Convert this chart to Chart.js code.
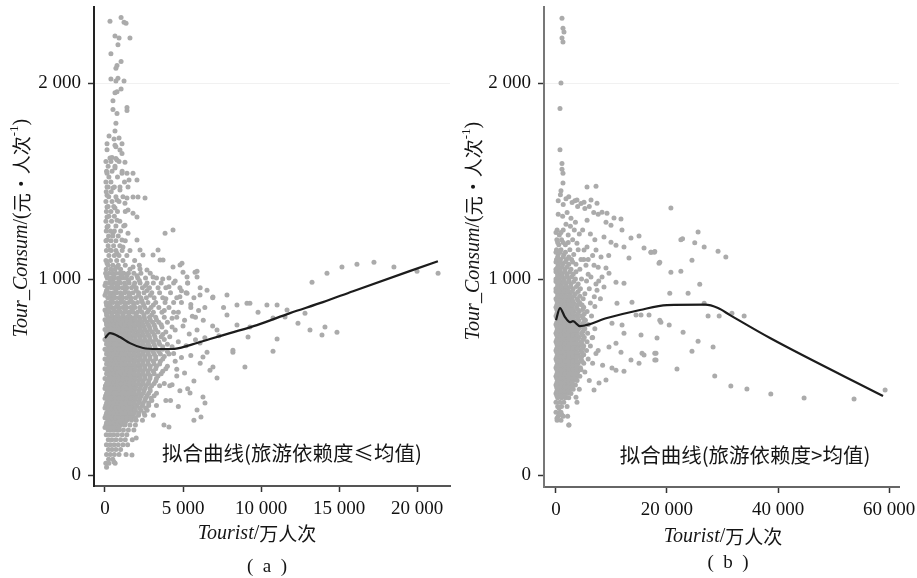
<!DOCTYPE html>
<html><head><meta charset="utf-8">
<script src="https://cdn.jsdelivr.net/npm/chart.js@4/dist/chart.umd.min.js"></script>
<style>
html,body{margin:0;padding:0;background:#fff;}
#wrap{position:relative;width:917px;height:578px;overflow:hidden;background:#fff;}
#pa{position:absolute;left:0;top:0;}
#pb{position:absolute;left:458px;top:0;}
</style></head>
<body><div id="wrap"><canvas id="pa" width="458" height="578"></canvas><canvas id="pb" width="459" height="578"></canvas></div>
<script>
// ---------- tick labels ----------
const ticksYA = [0, 1000, 2000];
const ticksXA = [0, 5000, 10000, 15000, 20000];
const ticksYB = [0, 1000, 2000];
const ticksXB = [0, 20000, 40000, 60000];

// ---------- fitted curves ----------
const curveAX = [0, 320, 960, 1600, 2440, 3330, 4300, 5450, 6730, 8010, 9740, 11860, 13970, 15900, 21340];
const curveAY = [699, 724, 704, 673, 648, 643, 643, 663, 694, 724, 765, 826, 882, 938, 1091];
const curveBX = [0, 720, 1620, 2520, 3060, 4320, 9190, 15140, 20000, 26850, 29190, 31350, 38560, 58920];
const curveBY = [790, 852, 806, 780, 785, 760, 801, 842, 867, 869, 852, 816, 699, 403];

// ---------- panel (a) scatter: [Tourist, Tour_Consum] ----------
const topA = [[320,2315],[1030,2335],[1220,2310],[1350,2305],[640,2240],[900,2230],[1600,2230],[830,2195],[380,2150],[1030,2110],[770,2090],[700,2075],[380,2020],[700,2010],[1220,2010],[830,2025],[1030,1970],[640,1950],[770,1955],[510,1910],[1410,1875],[1410,1860],[510,1865],[770,1845],[700,1795],[640,1755],[260,1730],[580,1715],[900,1720],[130,1690],[1090,1690],[700,1675],[130,1660],[1090,1640],[450,1620],[700,1615],[640,1683],[960,1658],[320,1617],[770,1607],[1280,1596]];
const midA = [[130,1540],[640,1566],[1090,1540],[1410,1540],[1795,1540],[1540,1505],[2050,1505],[130,1469],[510,1464],[960,1454],[1475,1469],[130,1428],[770,1403],[1410,1413],[1795,1418],[2115,1418],[2565,1413],[130,1367],[640,1362],[1280,1387],[1475,1352],[1795,1336],[2050,1316],[130,1316],[770,1300],[1280,1275],[130,1265],[510,1234],[1090,1199],[1475,1234],[2050,1199],[3850,1234],[4360,1250],[130,1199],[320,1148],[770,1132],[1150,1163],[2245,1148],[2435,1122],[3080,1122],[3400,1148],[3720,1097],[4360,1061],[4935,1081],[5000,1035],[5770,1035],[5900,1010],[1795,1061],[2245,1051],[2690,1046],[3080,1010],[130,1081],[770,1061],[1150,1030],[130,1010],[510,995],[4810,1071],[5900,1040],[5260,1010],[3530,1097],[6540,943]];
const colRowsA = [[1600,[60,380,900]],[1575,[200,640]],[1550,[100,450,1100]],[1520,[250,800]],[1495,[60,380,1250]],[1470,[200,600,960]],[1445,[80,400]],[1420,[240,700,1150]],[1395,[60,450,900]],[1370,[200,560]],[1345,[90,380,800,1300]],[1320,[250,600]],[1295,[60,420,950]],[1270,[200,700,1200]],[1245,[80,350,600,1000]],[1220,[230,500,850]],[1195,[60,380,700,1300]],[1170,[200,550,950]],[1145,[90,400,700,1100,1600]],[1120,[250,600,900,1400]],[1095,[60,350,750,1150,1900]],[1070,[200,500,850,1300,2200]],[1050,[80,380,650,1000,1600]]];
const coreRowsA = [
[1030,[40,260,480,700,950,1200,1500,1850,2300,2900]],
[1005,[150,380,600,850,1100,1350,1700,2100,2600,3300,4100]],
[980,[50,280,500,730,980,1250,1550,1900,2250,2700,3100,3600,4400,5300]],
[955,[170,400,620,870,1120,1400,1700,2000,2400,2850,3400,3900,4800,6100]],
[930,[60,290,520,760,1000,1260,1520,1800,2150,2500,3000,3500,4200,5200]],
[905,[180,410,640,890,1130,1380,1650,1950,2300,2650,3150,3700,4600,5700,6900]],
[880,[70,300,530,770,1010,1260,1520,1790,2080,2400,2750,3250,3850,4900]],
[855,[190,420,650,900,1140,1390,1650,1920,2230,2550,2950,3450,4100,5500,6400,7600]],
[830,[80,310,540,780,1020,1270,1530,1800,2080,2380,2720,3100,3650,4400]],
[805,[200,430,660,900,1150,1400,1660,1930,2210,2520,2850,3250,3800,4600,5800]],
[780,[90,320,550,790,1030,1280,1540,1810,2090,2380,2700,3050,3450,4000]],
[755,[210,440,670,910,1160,1410,1670,1940,2220,2520,2850,3200,3650,4300]],
[730,[100,330,560,800,1040,1290,1550,1820,2100,2390,2700,3030,3400,3900]],
[705,[220,450,680,920,1170,1420,1680,1950,2230,2530,2850,3200,3600,4150]],
[680,[110,340,570,810,1050,1300,1560,1830,2110,2400,2710,3050,3450]],
[655,[230,460,690,930,1180,1430,1690,1960,2240,2540,2860,3200,3700,4300]],
[630,[120,350,580,820,1060,1310,1570,1840,2120,2410,2720,3060,3450,4000]],
[605,[240,470,700,940,1190,1440,1700,1970,2250,2550,2880,3250,3800]],
[580,[130,360,590,830,1070,1320,1580,1850,2130,2420,2740,3100,3550,4500]],
[555,[250,480,710,950,1200,1450,1710,1980,2260,2560,2900,3300,4000]],
[530,[140,370,600,840,1080,1330,1590,1860,2140,2430,2750,3100,3700]],
[505,[260,490,720,960,1210,1460,1720,1990,2270,2570,2900,3400,4600]],
[480,[150,380,610,850,1090,1340,1600,1870,2150,2450,2800,3250]],
[455,[30,270,500,730,970,1220,1470,1730,2000,2290,2620,3000,3500,4150]],
[430,[160,390,620,860,1100,1350,1610,1880,2170,2500,2900]],
[405,[40,280,510,740,980,1230,1480,1740,2020,2330,2700,3150]],
[380,[170,400,630,870,1110,1360,1620,1900,2200,2550,3000,3900]],
[355,[50,290,520,750,990,1240,1490,1760,2050,2400,2800,3300]],
[330,[180,410,640,880,1120,1370,1640,1950,2300,2700]],
[305,[60,300,530,760,1000,1250,1520,1800,2150,2550,3100]],
[280,[190,420,650,890,1140,1400,1700,2000,2400]],
[255,[70,310,540,770,1010,1280,1600,1950]],
[230,[200,430,660,900,1180,1500,1850]],
[205,[80,320,550,800,1100,1400]],
[180,[210,440,700,1000,1300,1750]],
[155,[90,330,580,850,1150,1450]],
[130,[220,450,700,1000]],
[105,[100,340,600,900,1350]],
[80,[230,500]],
[60,[50,250,650]],
[40,[100]]];
const fillRowsA = [
[1017,[100,560,1050,1400,2050]],
[992,[330,900,1500,2200]],
[967,[0,440,800,1300,1850,2600]],
[942,[100,700,1300,2000,2700]],
[917,[0,330,560,1050,1570,2150,2900]],
[892,[440,1050,1650,2350]],
[867,[100,330,800,1300,1850,2480,3100]],
[842,[0,220,560,900,1300,1750,2250,2800]],
[817,[100,440,800,1150,1530,2000,2500,3000]],
[792,[0,220,440,670,900,1150,1400,1660,1950,2250,2550,2900,3300]],
[767,[100,330,560,800,1050,1300,1570,1850,2150,2450,2780,3150,3600]],
[742,[0,220,440,670,900,1150,1400,1660,1950,2250,2550,2880,3250]],
[717,[100,330,560,800,1050,1300,1570,1850,2150,2450,2780,3150,3700]],
[692,[0,220,440,670,900,1150,1400,1660,1950,2250,2550,2880,3250,3800]],
[667,[100,330,560,800,1050,1300,1570,1850,2150,2450,2780,3150,3500,4000]],
[642,[0,220,440,670,900,1150,1400,1660,1950,2250,2550,2880,3250,3700]],
[617,[100,330,560,800,1050,1300,1570,1850,2150,2450,2780,3150,3550,4100]],
[592,[0,220,440,670,900,1150,1400,1660,1950,2250,2550,2880,3250,3700]],
[567,[100,330,560,800,1050,1300,1570,1850,2150,2450,2780,3150,3500]],
[542,[0,220,440,670,900,1150,1400,1660,1950,2250,2550,2880,3250,3900]],
[517,[100,330,560,800,1050,1300,1570,1850,2150,2450,2780,3150,3600]],
[492,[0,220,440,670,900,1150,1400,1660,1950,2250,2550,2880,3300]],
[467,[100,330,560,800,1050,1300,1570,1850,2150,2450,2780,3150,3800]],
[442,[0,220,440,670,900,1150,1400,1660,1950,2250,2550,2880]],
[417,[100,330,560,800,1050,1300,1570,1850,2150,2450,2800,3300]],
[392,[0,220,440,670,900,1150,1400,1660,1950,2250,2600,2950]],
[367,[100,330,560,800,1050,1300,1570,1850,2150,2450,2800]],
[342,[0,220,440,670,900,1150,1400,1660,1950,2250,2600]],
[317,[100,330,560,800,1050,1300,1570,1850,2150,2500]],
[292,[0,220,440,670,900,1150,1400,1660,1950]],
[267,[100,330,560,800,1050,1300]],
[242,[0,220,440,670,900]]];
const scatterA = [[3700,1000],[4100,960],[4500,990],[4900,940],[5300,980],[3900,900],[4400,880],[4800,910],[5500,870],[6000,840],[3800,840],[4300,800],[4700,830],[5100,790],[5600,810],[6300,790],[6900,760],[4500,740],[5000,760],[5400,720],[5900,740],[6400,700],[7300,710],[4700,680],[5200,660],[5800,690],[4400,620],[4900,600],[5500,610],[6100,570],[4600,540],[5100,520],[5700,480],[4300,460],[4800,430],[5300,440],[4200,380],[4700,350],[3780,255],[4100,245],[5700,280],[6150,296],[5900,332],[6410,367],[6280,398],[5450,418],[6730,535],[6280,602],[2000,189],[1730,102],[580,66],[7180,740],[8200,637]];
const farA = [[13270,984],[14230,1030],[15190,1061],[16150,1076],[17240,1086],[18520,1061],[20000,1040],[21350,1030],[9100,877],[9810,831],[10380,867],[11030,867],[11670,842],[7820,816],[8460,765],[9290,755],[10770,801],[11540,806],[12370,775],[12820,826],[13140,740],[13910,714],[14100,755],[14870,729],[9170,704],[11030,694],[10770,632],[8200,627],[8970,551],[7180,495],[6920,551],[6540,627],[6090,673],[7820,918],[6920,908],[6090,918],[5260,928],[8460,867],[9290,877]];

// ---------- panel (b) scatter ----------
const topB = [[1080,2330],[1260,2280],[1440,2260],[1080,2230],[1260,2210],[900,2000],[720,1870],[720,1660],[1080,1590],[1080,1560],[1260,1540],[1260,1490],[900,1450],[400,1400],[800,1430],[1300,1380],[1800,1410],[2300,1420],[2900,1390],[3400,1400],[3900,1370],[4500,1385],[5200,1360],[6000,1370],[6800,1340],[7600,1330],[400,1330],[1200,1320],[2000,1340],[2700,1310],[3500,1290],[5590,1469],[7210,1474]];
const coreRowsB = [
[1250,[200,1300]],[1225,[600,2200]],[1200,[150,1000,3000]],[1175,[500,1700]],[1150,[100,900,2500,4000]],[1125,[400,1400,3200]],[1100,[100,800,1900,2800,5000]],[1075,[400,1200,2300,3600]],[1050,[0,700,1600,2700,4300]],[1025,[300,1100,2000,3100,5800]],[1000,[0,600,1400,2300,3500,4600]],[975,[300,1000,1800,2700,4000,7200]],[950,[0,700,1400,2200,3100,4400]],[925,[300,1000,1700,2500,3500,5200]],
[900,[0,650,1350,2050,2800,3800,4900]],[878,[300,1000,1700,2400,3200,4300,6200]],[856,[0,650,1350,2050,2800,3700,5000]],[834,[300,1000,1700,2400,3200,4200,5600]],[812,[0,650,1350,2050,2800,3600,4600,6400]],[790,[300,1000,1700,2400,3200,4100,5300]],[768,[0,650,1350,2050,2800,3600,4600,5800]],[746,[300,1000,1700,2400,3200,4100,5200,7000]],[724,[0,650,1350,2050,2800,3600,4600,5700]],[702,[300,1000,1700,2400,3200,4100,5100,6600]],[680,[0,650,1350,2050,2800,3600,4500,5600]],[658,[300,1000,1700,2400,3200,4100,5000,6200]],[636,[0,650,1350,2050,2800,3600,4500,5500,7600]],[614,[300,1000,1700,2400,3200,4000,5000]],[592,[0,650,1350,2050,2800,3600,4500,5800]],[570,[300,1000,1700,2400,3200,4000,5000,6600]],[548,[0,650,1350,2050,2800,3600,4400]],[526,[300,1000,1700,2400,3200,3900,5200]],[504,[0,650,1350,2050,2800,3500,4300]],[482,[300,1000,1700,2400,3100,3800,6000]],[460,[0,650,1350,2050,2800,3500]],[438,[300,1000,1700,2400,3100,4200]],[416,[0,650,1350,2000,2700]],[394,[300,1000,1700,2300]],[372,[0,700,1400]],[350,[300,1000,2000]],[320,[0,700]],[300,[400,1300,2100]],[280,[200,900]],[255,[2300]]];
const fillRowsB = [
[1237,[0,900]],[1187,[300,1300,2200]],[1137,[0,700,1700]],[1112,[300,1300,2300]],[1087,[0,800,1700,3000]],[1062,[300,1100,2000]],[1037,[0,800,1600,2500,3600]],[1012,[300,1000,1900,2800]],[987,[0,700,1500,2300,3200]],[962,[300,1000,1800,2600,3700]],[937,[0,700,1400,2100,2900,4000]],[912,[300,1000,1700,2400,3200,4300]],
[889,[150,850,1550,2250,3000,4000]],[867,[150,850,1550,2250,3000,3900,4700]],[845,[150,850,1550,2250,3000,3900,4800]],[823,[150,850,1550,2250,3000,3900,5100]],[801,[150,850,1550,2250,3000,3900,4900]],[779,[150,850,1550,2250,3000,3900,5000]],[757,[150,850,1550,2250,3000,3850,4800]],[735,[150,850,1550,2250,3000,3850,4900]],[713,[150,850,1550,2250,3000,3850,4800]],[691,[150,850,1550,2250,3000,3850,4900]],[669,[150,850,1550,2250,3000,3850,4700]],[647,[150,850,1550,2250,3000,3850,4800]],[625,[150,850,1550,2250,3000,3800,4700]],[603,[150,850,1550,2250,3000,3800,4600]],[581,[150,850,1550,2250,3000,3800,4700]],[559,[150,850,1550,2250,3000,3800]],[537,[150,850,1550,2250,3000,3700,4500]],[515,[150,850,1550,2250,3000,3700]],[493,[150,850,1550,2250,2950,3600]],[471,[150,850,1550,2250,2900]],[449,[150,850,1550,2200,2900]],[427,[150,850,1500,2200]],[405,[150,850,1500]]];
const scatterB = [[3780,1403],[5050,1392],[6310,1403],[7390,1387],[8290,1341],[9190,1336],[10450,1311],[11710,1306],[9010,1290],[9910,1275],[11890,1250],[13510,1209],[14960,1219],[15860,1158],[17120,1137],[17700,1137],[18560,1081],[7210,1148],[8110,1112],[8650,1214],[9910,1188],[10810,1173],[12250,1163],[13150,1107],[9010,1056],[9550,1030],[10810,984],[12250,979],[13690,882],[10990,877],[8650,959],[7390,943],[6850,1071],[5590,1163],[5050,1148],[3780,1183],[4500,1100],[5400,1070],[6300,1010],[10090,775],[11900,765],[12250,724],[10810,673],[11710,627],[9550,653],[10090,546],[10810,535],[12250,530],[13510,587],[14960,571],[15320,714],[15500,622],[15860,612],[18020,622],[18020,587],[14420,816],[15320,816],[16760,816],[9010,485],[7750,469],[6850,434],[3780,372],[3600,397],[180,444],[540,342],[1080,306],[180,290],[2340,255],[900,320],[7000,860],[8000,900],[6500,700],[7200,620],[8400,560],[4800,1250],[5600,1300],[6200,1230],[7000,1200],[5800,1100],[6600,1120],[7600,1060],[8300,1010],[7700,990],[6000,950],[6900,910],[5500,990],[9500,1120],[4200,1230],[3300,1250],[2600,1270],[1800,1280]];
const farB = [[20700,1362],[25600,1240],[22500,1200],[22800,1205],[25000,1185],[26700,1163],[29200,1142],[30600,1112],[17100,1137],[17800,1140],[18700,1086],[24500,1096],[20700,1035],[22500,1040],[25900,974],[20500,928],[23800,928],[26700,877],[27400,811],[29400,811],[31700,826],[33900,811],[18700,790],[18900,780],[20400,765],[22900,729],[18200,699],[25600,683],[28300,653],[24500,632],[17800,622],[17800,587],[21800,541],[28600,505],[31500,454],[34400,439],[38700,413],[44700,393],[53700,388],[59300,434]];

// ---------- helpers ----------
const SERIF = '"Liberation Serif", "Noto Sans CJK SC", serif';
const CJK = '"Noto Sans CJK SC", sans-serif';
const expand = rows => rows.flatMap(([y, xs]) => xs.map(x => [x, y]));
const toPts = arr => arr.map(([x, y]) => ({x, y}));
const zip = (xs, ys) => xs.map((x, i) => ({x, y: ys[i]}));
const fmt = v => String(v).replace(/\B(?=(\d{3})+(?!\d))/g, ' ');

function drawRich(ctx, segs, cx, cy, rot) {
  ctx.save();
  ctx.translate(cx, cy);
  if (rot) ctx.rotate(rot);
  ctx.textBaseline = 'middle';
  ctx.textAlign = 'left';
  ctx.fillStyle = '#151515';
  let total = 0;
  const ws = segs.map(s => { ctx.font = s.f; const w = ctx.measureText(s.t).width; total += w; return w; });
  let x = -total / 2;
  segs.forEach((s, i) => { ctx.font = s.f; ctx.fillText(s.t, x, s.dy || 0); x += ws[i]; });
  ctx.restore();
}
const textPlugin = {
  id: 'panelText',
  afterDraw(chart, args, opts) { (opts.items || []).forEach(it => drawRich(chart.ctx, it.segs, it.x, it.y, it.rot)); }
};

function yTitle(x, y) {
  return {x, y, rot: -Math.PI / 2, segs: [
    {t: 'Tour_Consum', f: 'italic 20px ' + SERIF},
    {t: '/(', f: '20px ' + SERIF},
    {t: '元・人次', f: '19px ' + CJK},
    {t: '-1', f: '13px ' + SERIF, dy: -7},
    {t: ')', f: '20px ' + SERIF}]};
}
function xTitle(x, y) {
  return {x, y, segs: [
    {t: 'Tourist', f: 'italic 20px ' + SERIF},
    {t: '/', f: '20px ' + SERIF},
    {t: '万人次', f: '19px ' + CJK}]};
}
function panelLabel(x, y, letter) {
  return {x, y, segs: [{t: '(\u2002' + letter + '\u2002)', f: '19px ' + SERIF}]};
}
function note(x, y, text) {
  return {x, y, segs: [{t: text, f: '20.5px ' + CJK}]};
}

function makeChart(id, o) {
  const tickFont = {family: SERIF, size: 19};
  return new Chart(document.getElementById(id), {
    type: 'scatter',
    data: {datasets: [
      {data: o.curve, showLine: true, pointRadius: 0, borderColor: '#1c1c1c', borderWidth: 2.2, cubicInterpolationMode: 'monotone', fill: false},
      {data: o.points, pointRadius: 2.5, pointBackgroundColor: '#ababab', pointBorderWidth: 0, borderWidth: 0, pointHoverRadius: 2.5}
    ]},
    options: {
      responsive: false, animation: false, devicePixelRatio: 1,
      layout: {padding: {top: 7, right: o.padR, left: 0, bottom: 0}},
      plugins: {legend: {display: false}, tooltip: {enabled: false}, panelText: {items: o.texts}},
      scales: {
        x: {
          type: 'linear', min: o.xMin, max: o.xMax,
          afterBuildTicks: s => { s.ticks = o.xTicks.map(v => ({value: v})); },
          afterFit: s => { s.height = o.xH; s.paddingLeft = 0; s.paddingRight = 0; },
          grid: {drawOnChartArea: false, drawTicks: true, tickLength: 6, tickColor: '#333', tickWidth: 1.5},
          border: {display: true, color: o.xAxisColor, width: 2},
          ticks: {font: tickFont, color: '#111', padding: 6, maxRotation: 0, autoSkip: false, callback: v => fmt(v)}
        },
        y: {
          type: 'linear', min: o.yMin, max: o.yMax,
          afterBuildTicks: s => { s.ticks = o.yTicks.map(v => ({value: v})); },
          afterFit: s => { s.width = o.yW; s.paddingTop = 0; s.paddingBottom = 0; },
          grid: {drawOnChartArea: true, color: c => (c.tick && c.tick.value === 2000) ? '#f1f1f1' : 'rgba(0,0,0,0)', drawTicks: true, tickLength: 6, tickColor: '#333', tickWidth: 1.5},
          border: {display: true, color: o.yAxisColor, width: 2},
          ticks: {font: tickFont, color: '#111', padding: 7, autoSkip: false, callback: v => fmt(v)}
        }
      }
    },
    plugins: [textPlugin]
  });
}

makeChart('pa', {
  curve: zip(curveAX, curveAY),
  points: toPts([...topA, ...midA, ...expand(colRowsA), ...expand(coreRowsA), ...expand(fillRowsA), ...scatterA, ...farA]),
  xMin: -705, xMax: 22115, yMin: -56, yMax: 2388,
  xTicks: ticksXA, yTicks: ticksYA,
  yW: 94, xH: 92, padR: 8, xAxisColor: '#555', yAxisColor: '#222',
  texts: [yTitle(22, 228), xTitle(257, 534), panelLabel(267, 567, 'a'), note(292, 453, '拟合曲线(旅游依赖度≤均值)')]
});
makeChart('pb', {
  curve: zip(curveBX, curveBY),
  points: toPts([...topB, ...expand(coreRowsB), ...expand(fillRowsB), ...scatterB, ...farB]),
  xMin: -2160, xMax: 61800, yMin: -61, yMax: 2388,
  xTicks: ticksXB, yTicks: ticksYB,
  yW: 86, xH: 91, padR: 18, xAxisColor: '#666', yAxisColor: '#777',
  texts: [yTitle(16, 231), xTitle(265, 537), panelLabel(270, 563, 'b'), note(287, 455, '拟合曲线(旅游依赖度>均值)')]
});
</script></body></html>
